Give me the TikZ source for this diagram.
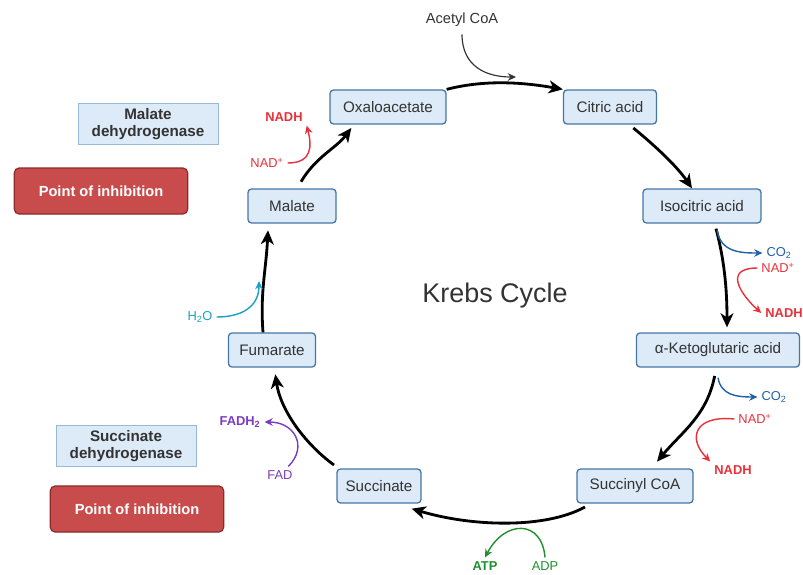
\documentclass[tikz,border=0pt]{standalone}
\usepackage{fontspec}
\setmainfont{Liberation Sans}
\usetikzlibrary{arrows.meta}
\definecolor{boxfill}{RGB}{221,234,247}
\definecolor{boxline}{RGB}{70,118,165}
\definecolor{enzline}{RGB}{150,185,215}
\definecolor{inhfill}{RGB}{200,76,76}
\definecolor{inhline}{RGB}{140,42,42}
\definecolor{txtgray}{RGB}{51,51,51}
\definecolor{nadred}{RGB}{232,48,58}
\definecolor{coblue}{RGB}{32,96,168}
\definecolor{watercyan}{RGB}{27,160,197}
\definecolor{fadpurple}{RGB}{122,60,192}
\definecolor{atpgreen}{RGB}{30,143,46}
\begin{document}
\begin{tikzpicture}[x=0.03cm,y=-0.03cm,
    metab/.style={draw=boxline,fill=boxfill,line width=1.1pt,rounded corners=3pt,
      minimum height=1.02cm,text=txtgray,font=\fontsize{13}{15}\selectfont},
    enzyme/.style={draw=enzline,fill=boxfill,line width=0.6pt,align=center,text=txtgray,
      font=\fontsize{13}{15}\selectfont\bfseries,minimum width=4.2cm,minimum height=1.22cm},
    inhib/.style={draw=inhline,fill=inhfill,line width=1pt,rounded corners=4pt,text=white,
      font=\fontsize{12.5}{15}\selectfont\bfseries,minimum width=5.2cm,minimum height=1.38cm},
    lbl/.style={font=\fontsize{11}{13}\selectfont},
    lblb/.style={font=\fontsize{11}{13}\selectfont\bfseries},
    cyc/.style={-{Stealth[length=12pt,width=11pt,inset=3.5pt]},line width=2.4pt},
    side/.style={-{Stealth[length=7pt,width=6.5pt]},line width=1.2pt}]
  \useasboundingbox (0,0) rectangle (803,574);
  % metabolites
  \node[metab,minimum width=3.48cm] (oxalo) at (388,107) {Oxaloacetate};
  \node[metab,minimum width=2.79cm] (citric) at (610,107) {Citric acid};
  \node[metab,minimum width=3.54cm] (isocitric) at (702,206) {Isocitric acid};
  \node[metab,minimum width=4.89cm] (alpha) at (718,350) {α-Ketoglutaric acid};
  \node[metab,minimum width=3.48cm] (succinyl) at (635,486) {Succinyl CoA};
  \node[metab,minimum width=2.52cm] (succinate) at (379,486) {Succinate};
  \node[metab,minimum width=2.61cm] (fumarate) at (272,350) {Fumarate};
  \node[metab,minimum width=2.64cm] (malate) at (292,206) {Malate};
  \node[text=txtgray,font=\fontsize{23}{27}\selectfont] (title) at (495,296) {Krebs Cycle};
  % enzymes
  \node[enzyme] (mdh) at (148,124) {Malate\\dehydrogenase};
  \node[inhib] (inhA) at (101,191) {Point of inhibition};
  \node[enzyme] (sdh) at (126,446) {Succinate\\dehydrogenase};
  \node[inhib] (inhB) at (137,509) {Point of inhibition};
  % cofactors
  \node[text=txtgray,font=\fontsize{12.5}{15}\selectfont] (acetyl) at (462,20) {Acetyl CoA};
  \coordinate (acend) at (516,77);
  \node[lbl,text=coblue] (co2a) at (779,253) {CO\textsubscript{2}};
  \node[lbl,text=nadred] (nad1) at (778,268) {NAD\textsuperscript{+}};
  \node[lblb,text=nadred] (nadh1) at (784,313) {NADH};
  \node[lbl,text=coblue] (co2b) at (774,397) {CO\textsubscript{2}};
  \node[lbl,text=nadred] (nad2) at (755,419) {NAD\textsuperscript{+}};
  \node[lblb,text=nadred] (nadh2) at (733,470) {NADH};
  \node[lblb,text=atpgreen] (atp) at (485,566) {ATP};
  \node[lbl,text=atpgreen] (adp) at (545,566) {ADP};
  \node[lbl,text=fadpurple] (fad) at (280,475) {FAD};
  \node[lblb,text=fadpurple] (fadh) at (240,422) {FADH\textsubscript{2}};
  \node[lbl,text=watercyan] (water) at (200,317) {H\textsubscript{2}O};
  \coordinate (waterend) at (259,281);
  \node[lbl,text=nadred] (nad0) at (267,163) {NAD\textsuperscript{+}};
  \node[lblb,text=nadred] (nadh0) at (284,117) {NADH};
  % cycle
  \begin{scope}[cyc]
    \draw (oxalo.north east) .. controls +(35,-9) and +(-45,-8) .. (citric.north west);
    \draw ([xshift=0.7cm,yshift=-0.1cm]citric.south) .. controls +(22,18) and +(-15,-22) .. ([xshift=-0.3cm]isocitric.north);
    \draw ([xshift=0.42cm,yshift=-0.15cm]isocitric.south) .. controls +(8,30) and +(0,-40) .. ([xshift=0.27cm,yshift=0.15cm]alpha.north);
    \draw ([xshift=-0.1cm,yshift=-0.25cm]alpha.south) .. controls +(-8,40) and +(25,-30) .. ([xshift=0.66cm,yshift=0.2cm]succinyl.north);
    \draw ([xshift=-1.5cm,yshift=-0.1cm]succinyl.south) .. controls +(-40,22) and +(60,18) .. ([xshift=-0.3cm,yshift=-0.15cm]succinate.south east);
    \draw ([xshift=-1.35cm,yshift=0.1cm]succinate.north) .. controls +(-30,-22) and +(5,35) .. ([xshift=0.1cm,yshift=-0.2cm]fumarate.south);
    \draw ([xshift=-0.27cm]fumarate.north) .. controls +(-3,-40) and +(-2,40) .. ([xshift=-0.72cm,yshift=-0.2cm]malate.south);
    \draw ([xshift=0.27cm,yshift=0.2cm]malate.north) .. controls +(15,-25) and +(-15,20) .. ([xshift=-1.1cm,yshift=-0.1cm]oxalo.south);
  \end{scope}
  % side reactions
  \draw[side,line width=1pt,txtgray] ([yshift=-0.1cm]acetyl.south) .. controls +(0,32) and +(-30,0) .. (acend);
  \draw[side,coblue] ([xshift=0.45cm,yshift=-0.2cm]isocitric.south) .. controls +(4,22) and +(-22,0) .. (co2a.west);
  \draw[side,nadred] (nad1.west) .. controls +(-35,0) and +(-20,-18) .. (nadh1.west);
  \draw[side,coblue] ([yshift=-0.3cm]alpha.south) .. controls +(3,18) and +(-20,0) .. (co2b.west);
  \draw[side,nadred] (nad2.west) .. controls +(-40,-4) and +(-23,-23) .. (nadh2.north west);
  \draw[side,atpgreen] (adp.north) .. controls +(-3,-38) and +(20,-38) .. (atp.north);
  \draw[side,fadpurple] ([xshift=0.25cm]fad.north) .. controls +(20,-20) and +(30,0) .. (fadh.east);
  \draw[side,watercyan] (water.east) .. controls +(30,0) and +(0,22) .. (waterend);
  \draw[side,nadred] (nad0.east) .. controls +(25,0) and +(5,20) .. (nadh0.south east);
\end{tikzpicture}
\end{document}
